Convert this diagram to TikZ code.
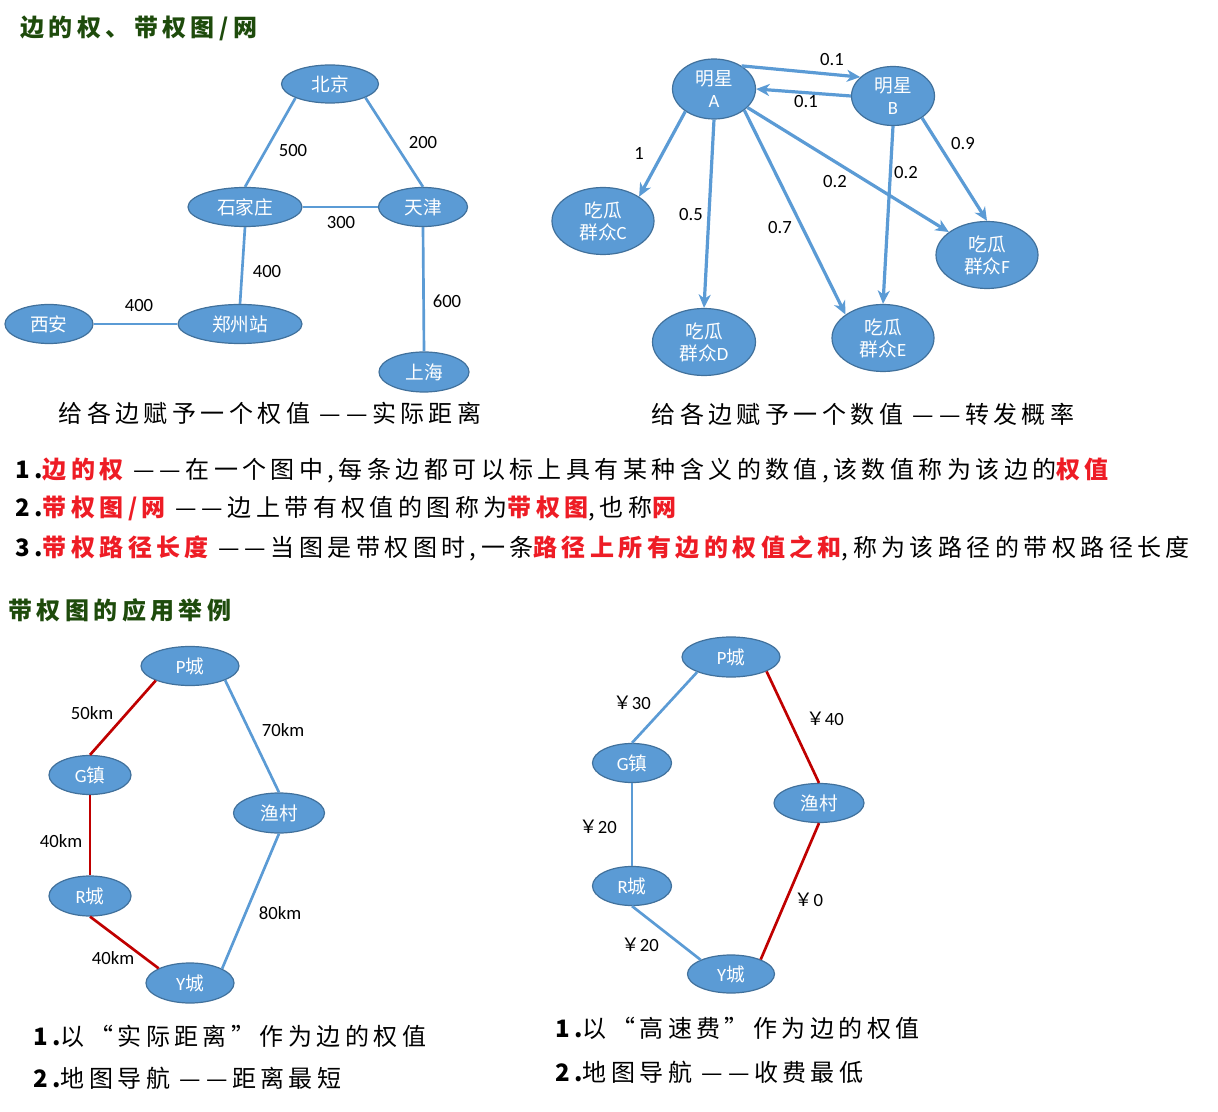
\documentclass[tikz,border=0pt]{standalone}
\usepackage{fontspec}
\setmainfont{Carlito}
\newfontfamily\cjk{Noto Sans CJK SC}
\newfontfamily\cjkls{Noto Sans CJK SC}[LetterSpace=18.5]
\usetikzlibrary{shapes.geometric,arrows.meta}
\definecolor{nodefill}{HTML}{5B9BD5}
\definecolor{nodeedge}{HTML}{41719C}
\definecolor{edgeblue}{HTML}{5B9BD5}
\definecolor{edgered}{HTML}{C00000}
\definecolor{hred}{HTML}{EE1C25}
\definecolor{tgreen}{HTML}{1E4B0C}
\newcommand\zh[1]{{\cjk #1}}
\newcommand\dd{—\hspace{0.2em}—}
\begin{document}
\begin{tikzpicture}[x=0.75pt,y=-0.75pt,
  city/.style 2 args={ellipse, fill=nodefill, draw=nodeedge, line width=0.9pt, text=white,
    inner sep=0pt, minimum width=#1*0.75pt, minimum height=#2*0.75pt,
    font=\fontsize{14}{16.5}\selectfont, align=center},
  elab/.style={font=\fontsize{14}{17}\selectfont, text=black, inner sep=0pt},
  blueedge/.style={draw=edgeblue, line width=2pt},
  rededge/.style={draw=edgered, line width=2pt},
  arr/.style={draw=edgeblue, line width=2.4pt, -{Stealth[length=10pt,width=9pt,inset=3pt]}},
  body/.style={anchor=west, inner sep=0pt, font=\cjkls\fontsize{18}{22}\selectfont},
  captext/.style={inner sep=0pt, font=\cjkls\fontsize{18}{22}\selectfont},
  titletext/.style={anchor=west, inner sep=0pt, text=tgreen, font=\cjkls\bfseries\fontsize{18}{22}\selectfont}
]
\useasboundingbox[fill=white] (0,0) rectangle (1218,1112);

% ---------- titles ----------
\node[titletext] (h1) at (20,28) {边的权、带权图/网};
\node[titletext] (h2) at (8,610) {带权图的应用举例};

% ---------- top-left graph ----------
\node[city={97}{38}] (bj) at (330,84) {\zh{北京}};
\node[city={114}{39}] (sjz) at (245,207) {\zh{石家庄}};
\node[city={89}{39}] (tj) at (423,207) {\zh{天津}};
\node[city={124}{39}] (zz) at (240,324) {\zh{郑州站}};
\node[city={88}{39}] (xa) at (49,324) {\zh{西安}};
\node[city={90}{40}] (sh) at (424,372) {\zh{上海}};
\draw[blueedge] (bj.202) -- (sjz.north);
\draw[blueedge] (bj.339) -- (tj.north);
\draw[blueedge] (sjz.east) -- (tj.west);
\draw[blueedge] (sjz.south) -- (zz.north);
\draw[blueedge] (tj.south) -- (sh.north);
\draw[blueedge] (xa.east) -- (zz.west);
\node[elab] (w1) at (293,151) {500};
\node[elab] (w2) at (423,143) {200};
\node[elab] (w3) at (341,223) {300};
\node[elab] (w4) at (267,272) {400};
\node[elab] (w5) at (447,301) {600};
\node[elab] (w6) at (139,306) {400};
\node[captext] (cap1) at (270,413) {给各边赋予一个权值 \dd 实际距离};

% ---------- top-right graph ----------
\node[city={83}{60}] (A) at (714,89) {\zh{明星}\\A};
\node[city={83}{59}] (B) at (893,96) {\zh{明星}\\B};
\node[city={102}{67}] (C) at (603,221) {\zh{吃瓜}\\\zh{群众}C};
\node[city={103}{67}] (D) at (704,342) {\zh{吃瓜}\\\zh{群众}D};
\node[city={102}{67}] (E) at (883,338) {\zh{吃瓜}\\\zh{群众}E};
\node[city={102}{67}] (F) at (987,255) {\zh{吃瓜}\\\zh{群众}F};
\draw[arr] (A.40) -- (B.150);
\draw[arr] (B.west) -- (A.east);
\draw[arr] (A.218) -- (C.34);
\draw[arr] (A.south) -- (D.north);
\draw[arr] (A.325) -- (E.148);
\draw[arr] (A.331) -- (F.149);
\draw[arr] (B.south) -- (E.north);
\draw[arr] (B.323) -- (F.north);
\node[elab] (p1) at (832,60) {0.1};
\node[elab] (p2) at (806,102) {0.1};
\node[elab] (p3) at (639,153) {1};
\node[elab] (p4) at (691,215) {0.5};
\node[elab] (p5) at (780,228) {0.7};
\node[elab] (p6) at (835,182) {0.2};
\node[elab] (p7) at (906,173) {0.2};
\node[elab] (p8) at (963,144) {0.9};
\node[captext] (cap2) at (863,414) {给各边赋予一个数值 \dd 转发概率};

% ---------- definitions ----------
\node[body] (t1) at (15,470) {{\bfseries 1.}\textcolor{hred}{\bfseries 边的权} \dd 在一个图中,每条边都可以标上具有某种含义的数值,该数值称为该边的\textcolor{hred}{\bfseries 权值}};
\node[body] (t2) at (15,509) {{\bfseries 2.}\textcolor{hred}{\bfseries 带权图/网} \dd 边上带有权值的图称为\textcolor{hred}{\bfseries 带权图},也称\textcolor{hred}{\bfseries 网}};
\node[body] (t3) at (15,548) {{\bfseries 3.}\textcolor{hred}{\bfseries 带权路径长度} \dd 当图是带权图时,一条\textcolor{hred}{\bfseries 路径上所有边的权值之和},称为该路径的带权路径长度};

% ---------- bottom-left graph ----------
\node[city={98}{39}] (P1) at (190,666) {P\zh{城}};
\node[city={82}{39}] (G1) at (90,775) {G\zh{镇}};
\node[city={91}{40}] (V1) at (279,813) {\zh{渔村}};
\node[city={82}{40}] (R1) at (90,896) {R\zh{城}};
\node[city={88}{40}] (Y1) at (190,983) {Y\zh{城}};
\draw[rededge] (P1.203) -- (G1.north);
\draw[blueedge] (P1.338) -- (V1.north);
\draw[rededge] (G1.south) -- (R1.north);
\draw[rededge] (R1.south) -- (Y1.155);
\draw[blueedge] (V1.south) -- (Y1.24);
\node[elab] (k1) at (92,713) {50km};
\node[elab] (k2) at (283,730) {70km};
\node[elab] (k3) at (61,841) {40km};
\node[elab] (k4) at (280,913) {80km};
\node[elab] (k5) at (113,958) {40km};
\node[captext, anchor=west] (c1) at (33,1036) {{\bfseries 1.}以“实际距离”作为边的权值};
\node[captext, anchor=west] (c2) at (33,1078) {{\bfseries 2.}地图导航 \dd 距离最短};

% ---------- bottom-right graph ----------
\node[city={98}{40}] (P2) at (731,657) {P\zh{城}};
\node[city={79}{39}] (G2) at (632,763) {G\zh{镇}};
\node[city={90}{39}] (V2) at (819,803) {\zh{渔村}};
\node[city={79}{39}] (R2) at (632,886) {R\zh{城}};
\node[city={87}{38}] (Y2) at (731,974) {Y\zh{城}};
\draw[blueedge] (P2.204) -- (G2.north);
\draw[rededge] (P2.338) -- (V2.north);
\draw[blueedge] (G2.south) -- (R2.north);
\draw[blueedge] (R2.south) -- (Y2.155);
\draw[rededge] (V2.south) -- (Y2.26);
\node[elab] (m1) at (632,703) {\zh{￥}30};
\node[elab] (m2) at (825,719) {\zh{￥}40};
\node[elab] (m3) at (598,827) {\zh{￥}20};
\node[elab] (m4) at (809,900) {\zh{￥}0};
\node[elab] (m5) at (640,945) {\zh{￥}20};
\node[captext, anchor=west] (c3) at (555,1028) {{\bfseries 1.}以“高速费”作为边的权值};
\node[captext, anchor=west] (c4) at (555,1072) {{\bfseries 2.}地图导航 \dd 收费最低};
\end{tikzpicture}
\end{document}
